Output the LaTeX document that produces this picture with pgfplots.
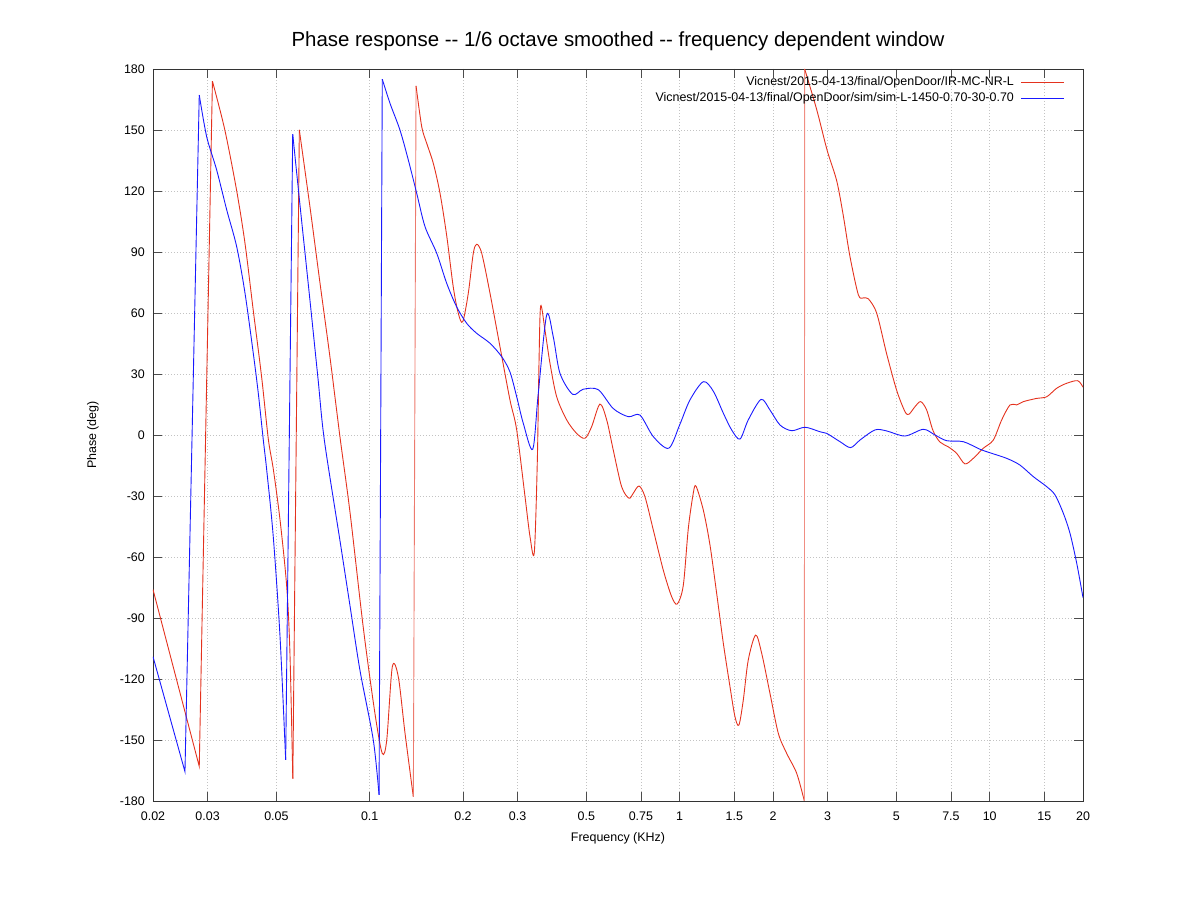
\documentclass[border=0pt]{standalone}
\usepackage{fontspec}
\setmainfont{Liberation Sans}
\usepackage{pgfplots}
\pgfplotsset{compat=1.18}
\definecolor{gpred}{RGB}{228,50,30}
\definecolor{gpblue}{RGB}{25,25,255}
\definecolor{gridgray}{RGB}{195,195,195}
\newcommand{\lblfont}{\fontsize{12.5}{14}\selectfont}
\begin{document}
\begin{tikzpicture}[x=1bp,y=1bp]
\path[use as bounding box] (0,0) rectangle (1198,898);
\begin{axis}[
  at={(153bp,97bp)}, anchor=south west,
  width=930bp, height=732bp, scale only axis,
  xmode=log, xmin=0.02, xmax=20, ymin=-180, ymax=180,
  xtick={0.02,0.03,0.05,0.1,0.2,0.3,0.5,0.75,1,1.5,2,3,5,7.5,10,15,20},
  xticklabels={0.02,0.03,0.05,0.1,0.2,0.3,0.5,0.75,1,1.5,2,3,5,7.5,10,15,20},
  ytick={-180,-150,-120,-90,-60,-30,0,30,60,90,120,150,180},
  yticklabels={-180,-150,-120,-90,-60,-30,0,30,60,90,120,150,180},
  xminorticks=false, yminorticks=false,
  grid=major,
  major grid style={gridgray, line width=0.5bp, dash pattern=on 1bp off 2bp},
  tick align=inside, major tick length=9bp,
  xtick pos=both, ytick pos=both,
  tick style={black!70, line width=0.6bp},
  axis line style={black!80, line width=0.8bp},
  tick label style={font=\lblfont},
  xticklabel style={inner sep=0pt, anchor=north, yshift=-11bp},
  yticklabel style={inner sep=0pt, anchor=east, xshift=-8bp},
  title={Phase response -{}- 1/6 octave smoothed -{}- frequency dependent window},
  title style={font=\fontsize{20.5}{24}\selectfont, at={(axis description cs:0.5,1)}, anchor=center, yshift=22bp},
  xlabel={Frequency (KHz)},
  xlabel style={font=\lblfont, at={(axis description cs:0.5,0)}, anchor=center, yshift=-37bp},
  ylabel={Phase (deg)},
  ylabel style={font=\lblfont, at={(axis description cs:-0.0645,0.5)}, anchor=center},
  legend style={at={(axis description cs:1,1)}, anchor=north east, xshift=-18bp, yshift=-7bp,
    draw=none, fill=none, inner sep=0pt, row sep=4bp, column sep=7bp,
    font=\lblfont, nodes={inner sep=0pt, text height=9bp, text depth=3bp}},
  legend cell align=right,
  legend plot pos=right,
  legend image code/.code={\draw[#1] (0bp,0bp) -- (43bp,0bp);},
  redline/.style={color=gpred, line width=0.9bp, mark=none},
  blueline/.style={color=gpblue, line width=0.9bp, mark=none},
]
% ---------------- red series ----------------
\addplot[redline] coordinates {(0.02,-76)(0.0282,-163)(0.0311,174)};
\addlegendentry{Vicnest/2015-04-13/final/OpenDoor/IR-MC-NR-L}
\addplot[redline, smooth, forget plot] coordinates {
(0.0311,174)(0.0341,150)(0.0372,120.5)(0.0396,94.4)(0.0421,61.5)(0.0448,28.7)
(0.0471,-2)(0.0489,-17)(0.0514,-42)(0.054,-74.6)(0.0553,-107)(0.0565,-169)};
\addplot[redline, forget plot] coordinates {(0.0565,-169)(0.0593,150)};
\addplot[redline, smooth, forget plot] coordinates {
(0.0593,150)(0.0642,112)(0.0691,75)(0.0745,38)(0.0802,-1)(0.0864,-38)
(0.0954,-95)(0.104,-137)(0.1098,-156.6)(0.1135,-150)
(0.1183,-114)(0.1237,-119)(0.130,-146.6)(0.1383,-178)};
\addplot[redline, color=gpred!65, forget plot] coordinates {(0.1383,-178)(0.1411,171.7)};
\addplot[redline, smooth, forget plot] coordinates {
(0.1411,171.7)(0.1472,151.6)(0.1527,143.5)(0.1604,133.6)(0.1686,118.9)(0.1772,98)
(0.186,72.9)(0.1931,59.9)(0.1996,55.7)(0.208,69.7)(0.2159,89.4)(0.2214,93.8)
(0.2298,89.4)(0.2444,69.7)(0.2632,43.4)(0.2835,17.2)(0.298,2.5)(0.317,-30.3)
(0.329,-50)(0.3396,-57.9)(0.3472,-13.9)(0.3517,35.3)(0.356,63.4)(0.3677,51.6)
(0.3816,35.3)(0.401,18.8)(0.432,7.4)(0.465,0.8)(0.495,-1.6)(0.520,4.1)(0.553,15.2)
(0.5815,7.4)(0.6105,-7.4)(0.6496,-25.4)(0.686,-31.1)(0.708,-28.7)(0.739,-25.1)
(0.7725,-30.3)(0.822,-46.7)(0.885,-66.4)(0.942,-79.5)(0.982,-83.1)(1.027,-74)
(1.066,-46)(1.106,-28.7)(1.129,-25.2)(1.192,-37)(1.252,-54)(1.316,-77.9)
(1.383,-102.5)(1.453,-123.8)(1.508,-138.6)(1.553,-142.6)(1.604,-130.3)(1.664,-110.7)
(1.758,-98.4)(1.839,-107.4)(1.955,-127)(2.08,-146.7)(2.214,-156.6)(2.385,-166.4)
(2.524,-180)};
\addplot[redline, color=gpred!55, forget plot] coordinates {(2.524,-180)(2.53,180)};
\addplot[redline, smooth, forget plot] coordinates {
(2.53,180)(2.767,160)(2.99,140)(3.21,125)(3.37,108)(3.54,88)(3.769,69)(3.91,67.4)
(4.058,67)(4.32,59.9)(4.65,40)(5.01,22)(5.33,11.5)(5.49,10.2)(5.74,13.9)(5.99,16.4)
(6.26,12.3)(6.57,2)(6.915,-3.5)(7.35,-5.8)(7.82,-9)(8.32,-14.2)(8.85,-11.5)
(9.54,-6.5)(10.27,-2.5)(10.93,7.4)(11.63,14.8)(12.22,14.8)(12.84,16.4)(14.18,18)
(15.27,18.8)(16.45,23)(17.7,25.4)(19.23,26.7)(20,23.5)};
% ---------------- blue series ----------------
\addplot[blueline] coordinates {(0.02,-109)(0.02536,-165.6)(0.0282,167.2)};
\addlegendentry{Vicnest/2015-04-13/final/OpenDoor/sim/sim-L-1450-0.70-30-0.70}
\addplot[blueline, smooth, forget plot] coordinates {
(0.0282,167.2)(0.0298,146.7)(0.0321,130.3)(0.03458,110.7)(0.03724,92.6)(0.03962,69.7)
(0.04212,40.2)(0.04372,20.5)(0.04538,-2.5)(0.04654,-17.2)(0.04886,-50)(0.05138,-99.2)
(0.05358,-159.8)};
\addplot[blueline, forget plot] coordinates {(0.05358,-159.8)(0.05646,148)};
\addplot[blueline, smooth, forget plot] coordinates {
(0.05646,148)(0.0596,113)(0.0642,66)(0.0681,28)(0.0714,-2.5)(0.0802,-52)
(0.0864,-84)(0.0931,-116)(0.1027,-150)(0.1072,-177)};
\addplot[blueline, forget plot] coordinates {(0.1072,-177)(0.1098,175)};
\addplot[blueline, smooth, forget plot] coordinates {
(0.1098,175)(0.1163,163.1)(0.1252,150)(0.1332,135.3)(0.1418,118.9)(0.1508,102.5)
(0.1645,89.4)(0.1772,74.6)(0.1907,63.1)(0.2056,54.9)(0.2214,50)(0.2444,45.1)
(0.2666,38.5)(0.2835,31)(0.298,18.8)(0.313,5.7)(0.3357,-7)(0.3498,20.5)(0.3723,59)
(0.391,48.3)(0.411,30.3)(0.4517,20)(0.4885,22.5)(0.546,22.3)(0.6105,13)(0.6826,9)
(0.7445,9.8)(0.822,-0.8)(0.922,-6.5)(1.0,5)(1.079,17.2)(1.192,26.2)(1.284,21.5)
(1.383,10.7)(1.471,2.5)(1.565,-2)(1.664,7.4)(1.83,17.5)(1.955,12.3)(2.107,4.9)
(2.298,2.1)(2.537,3.8)(2.835,1.6)(2.98,0.8)(3.29,-3.3)(3.56,-6.2)(3.816,-2.5)
(4.266,2.5)(4.65,2)(5.33,-0.5)(6.107,2.8)(6.66,0)(7.26,-2.8)(8.22,-3.3)(9.3,-7)
(10.0,-8.7)(11.35,-11.5)(12.52,-14.8)(13.83,-20.5)(15.27,-25.4)(16.25,-29.5)
(17.28,-38.5)(18.16,-48.4)(19.09,-63.1)(20,-80)};
\end{axis}
\end{tikzpicture}
\end{document}
